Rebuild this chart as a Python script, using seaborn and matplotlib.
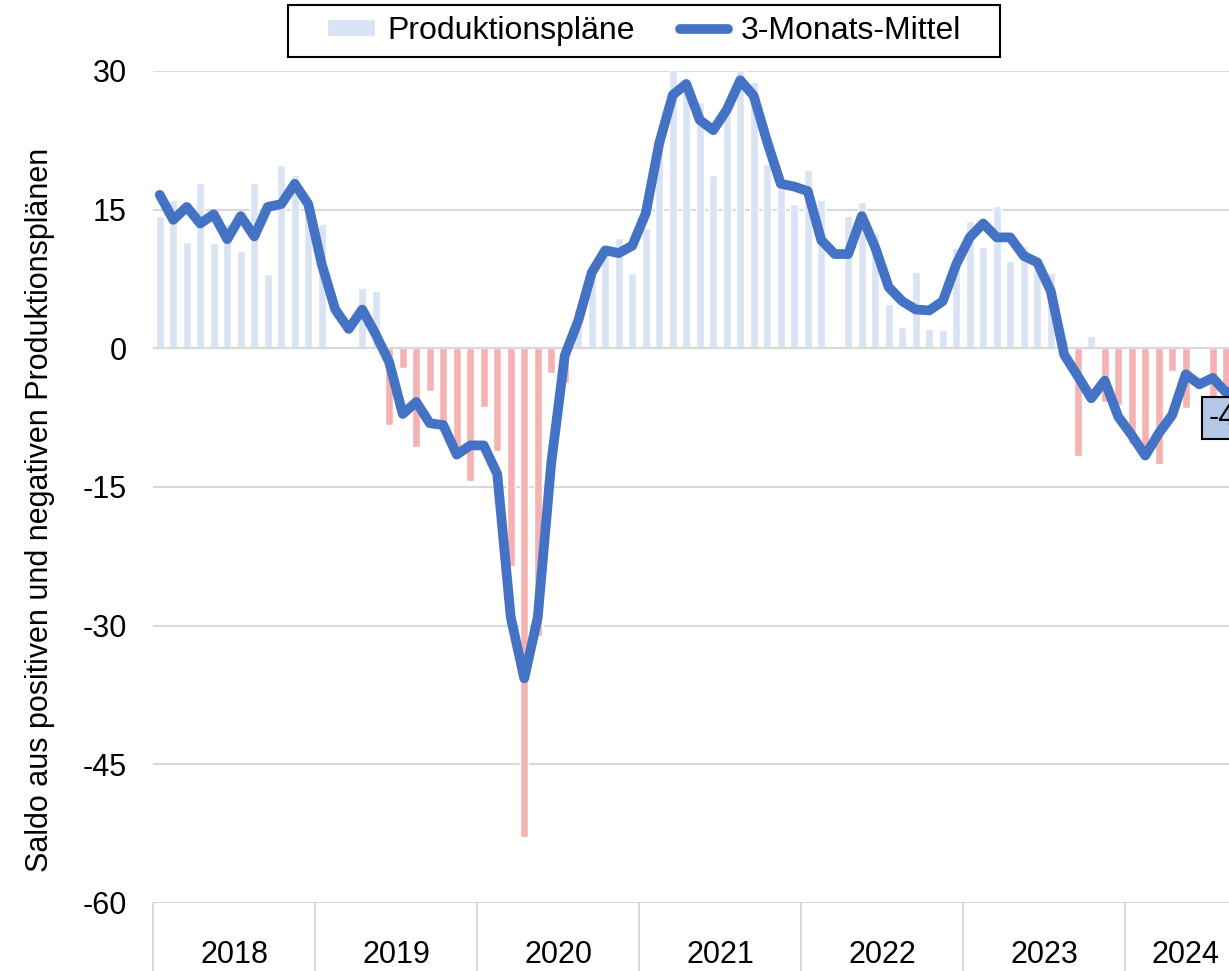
import numpy as np
import pandas as pd
import matplotlib
matplotlib.use("Agg")
import matplotlib.pyplot as plt
import matplotlib.transforms as mtransforms
from matplotlib.patches import Patch, Rectangle
from matplotlib.lines import Line2D
import seaborn as sns

# monthly data, Jan 2018 .. Sep 2024
years = ["2018", "2019", "2020", "2021", "2022", "2023", "2024"]
months_per_year = [12, 12, 12, 12, 12, 12, 9]

plans = [
    14.3, 16.0, 11.5, 17.9, 11.4, 13.5, 10.5, 17.9, 8.0, 19.8, 18.8, 14.6,      # 2018
    13.4, 0.0, 0.0, 6.5, 6.2, -8.3, -2.1, -10.7, -4.6, -9.1, -11.1, -14.3,      # 2019
    -6.3, -11.1, -23.5, -52.9, -31.1, -2.7, -3.8, 4.3, 9.0, 11.1, 11.9, 8.2,    # 2020
    13.0, 22.6, 31.0, 28.4, 26.6, 18.8, 25.4, 32.8, 28.8, 19.9, 18.0, 15.6,     # 2021
    19.3, 16.0, 0.3, 14.3, 15.8, 12.5, 4.8, 2.3, 8.3, 2.1, 2.0, 10.9,           # 2022
    13.8, 11.0, 15.4, 9.5, 11.1, 9.4, 8.1, 0.9, -11.7, 1.3, -5.8, -6.1,         # 2023
    -10.4, -11.8, -12.5, -2.5, -6.5, 0.0, -6.0, -5.5, -3.5,                     # 2024
]

avg3 = [
    16.6, 13.9, 15.3, 13.5, 14.5, 11.8, 14.3, 12.1, 15.3, 15.6, 17.8, 15.6,
    9.1, 4.2, 2.1, 4.2, 1.5, -1.5, -7.1, -5.8, -8.1, -8.3, -11.5, -10.5,
    -10.5, -13.6, -29.1, -35.7, -29.1, -12.4, -0.8, 3.0, 8.2, 10.6, 10.3, 11.1,
    14.6, 22.2, 27.4, 28.6, 24.7, 23.6, 25.8, 29.0, 27.3, 22.3, 17.8, 17.5,
    17.0, 11.7, 10.2, 10.2, 14.3, 10.9, 6.6, 5.1, 4.2, 4.1, 5.1, 9.1,
    12.0, 13.5, 12.0, 12.0, 10.0, 9.3, 6.2, -0.7, -3.0, -5.4, -3.5, -7.4,
    -9.4, -11.6, -9.2, -7.2, -2.8, -3.9, -3.2, -4.8, -4.4,
]

c_pos = "#DAE3F3"
c_neg = "#F5B2B2"
c_line = "#4472C4"
c_grid = "#D9D9D9"

sns.set_theme(style="white")
plt.rcParams["font.family"] = ["Liberation Sans", "DejaVu Sans"]
plt.rcParams["axes.unicode_minus"] = False
plt.rcParams["text.color"] = "black"

df = pd.DataFrame({"pos": np.arange(len(plans)), "plans": plans, "avg3": avg3})
df["sign"] = np.where(df["plans"] >= 0, "pos", "neg")

W, H = 1229, 971
fig = plt.figure(figsize=(W / 100, H / 100), dpi=100)
ax = fig.add_axes([153 / W, 68 / H, 1093.5 / W, 832 / H])

sns.barplot(data=df, x="pos", y="plans", hue="sign",
            palette={"pos": c_pos, "neg": c_neg}, native_scale=True,
            dodge=False, width=0.62, saturation=1, legend=False, ax=ax)
ax.axhline(0, color=c_grid, lw=1.5, zorder=1.5)
sns.lineplot(data=df, x="pos", y="avg3", color=c_line, linewidth=7,
             solid_capstyle="round", solid_joinstyle="round", ax=ax, zorder=3)

ax.set_xlim(-0.5, len(plans) - 0.5)
ax.set_ylim(-60, 30)
ax.set_yticks(range(-60, 31, 15))
ax.set_xticks([])
ax.set_xlabel("")
ax.set_ylabel("")
ax.grid(axis="y", color=c_grid, lw=1.5)
ax.set_axisbelow(True)
for s in ax.spines.values():
    s.set_visible(False)
ax.tick_params(axis="y", length=0, pad=19, labelsize=22, labelcolor="black")

# year groups below the axis
trans = mtransforms.blended_transform_factory(ax.transData, ax.transAxes)
bounds = np.cumsum([0] + months_per_year) - 0.5
for b in bounds:
    ax.plot([b, b], [0, -0.1], transform=trans, color=c_grid, lw=1.5, clip_on=False)
for yr, b0, n in zip(years, bounds[:-1], months_per_year):
    ax.text(b0 + n / 2, -0.062, yr, transform=trans, ha="center", va="center",
            fontsize=22, color="black")

# label for the last value
last = df["avg3"].iloc[-1]
ax.annotate(f"{last:.1f}".replace(".", ","), xy=(df["pos"].iloc[-1], last),
            xytext=(-31, -14), textcoords="offset pixels", ha="left", va="top",
            fontsize=22, color="black", annotation_clip=False, zorder=4,
            bbox=dict(boxstyle="square,pad=0.21", fc="#B4C7E7", ec="black", lw=1.5))

fig.text(40 / W, 1 - 510 / H, "Saldo aus positiven und negativen Produktionsplänen",
         rotation=90, ha="center", va="center", fontsize=22, color="black")

handles = [Patch(facecolor=c_pos), Line2D([], [], color=c_line, lw=7)]
leg = fig.legend(handles, ["Produktionspläne", "3-Monats-Mittel"], loc="center",
                 bbox_to_anchor=(644 / W, 1 - 31 / H), ncol=2, frameon=False,
                 fontsize=23, handlelength=1.5, handleheight=0.45,
                 handletextpad=0.4, columnspacing=1.4)
for t in leg.get_texts():
    t.set_color("black")
fig.patches.append(Rectangle((288 / W, 1 - 57 / H), 712 / W, 52 / H,
                             transform=fig.transFigure, fill=False,
                             ec="black", lw=1.5))

fig.savefig("out.png", dpi=100)
